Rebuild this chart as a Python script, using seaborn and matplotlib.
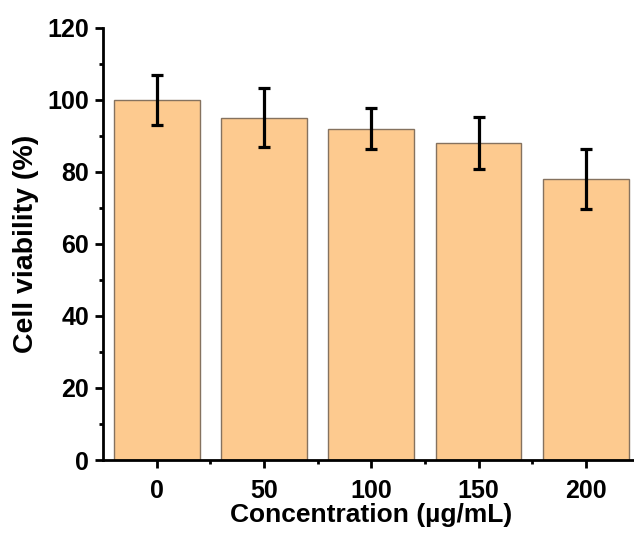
import numpy as np
import pandas as pd
import matplotlib
matplotlib.use("Agg")
import matplotlib.pyplot as plt
from matplotlib.ticker import MultipleLocator, FixedLocator
import seaborn as sns

# values
concentrations = ["0", "50", "100", "150", "200"]
viability = [100, 95, 92, 88, 78]
viability_sd = [7.0, 8.2, 5.7, 7.2, 8.3]

df = pd.DataFrame({"conc": concentrations, "viab": viability, "sd": viability_sd})

sns.set_style("ticks")
plt.rcParams['font.family'] = ['Liberation Sans', 'DejaVu Sans']
plt.rcParams['font.weight'] = 'bold'
# pure black text and axes like the original
for key in ['text.color', 'axes.labelcolor', 'xtick.color', 'ytick.color', 'axes.edgecolor']:
    plt.rcParams[key] = 'black'

fig = plt.figure(figsize=(6.34, 5.35), dpi=100)
ax = fig.add_axes([103/634, 75/535, 536.5/634, 432.3/535])

sns.barplot(data=df, x="conc", y="viab", color="#fdca8f", saturation=1,
            width=0.8, edgecolor="#85725f", linewidth=1.0, errorbar=None, ax=ax)

# error bars
ax.errorbar(np.arange(len(df)), df["viab"], yerr=df["sd"], fmt="none",
            ecolor="black", elinewidth=2.3, capsize=4.2, capthick=2.3, zorder=5)

ax.set_xlim(-0.5, 4.5)
ax.set_ylim(0, 120)
ax.yaxis.set_major_locator(MultipleLocator(20))
ax.yaxis.set_minor_locator(MultipleLocator(10))
ax.xaxis.set_minor_locator(FixedLocator([0.5, 1.5, 2.5, 3.5]))

for side in ["top", "right"]:
    ax.spines[side].set_visible(False)
for side in ["left", "bottom"]:
    ax.spines[side].set_linewidth(2)

ax.tick_params(which="major", direction="out", length=6, width=2, labelsize=18, pad=4)
ax.tick_params(axis="x", which="major", pad=8)
ax.tick_params(which="minor", direction="out", length=3, width=2)
for lab in ax.get_xticklabels() + ax.get_yticklabels():
    lab.set_fontweight("bold")

ax.set_xlabel("Concentration (µg/mL)", fontsize=19, fontweight="bold", labelpad=0)
ax.set_ylabel("Cell viability (%)", fontsize=20.5, fontweight="bold", labelpad=6)

fig.savefig("out.png", dpi=100)
